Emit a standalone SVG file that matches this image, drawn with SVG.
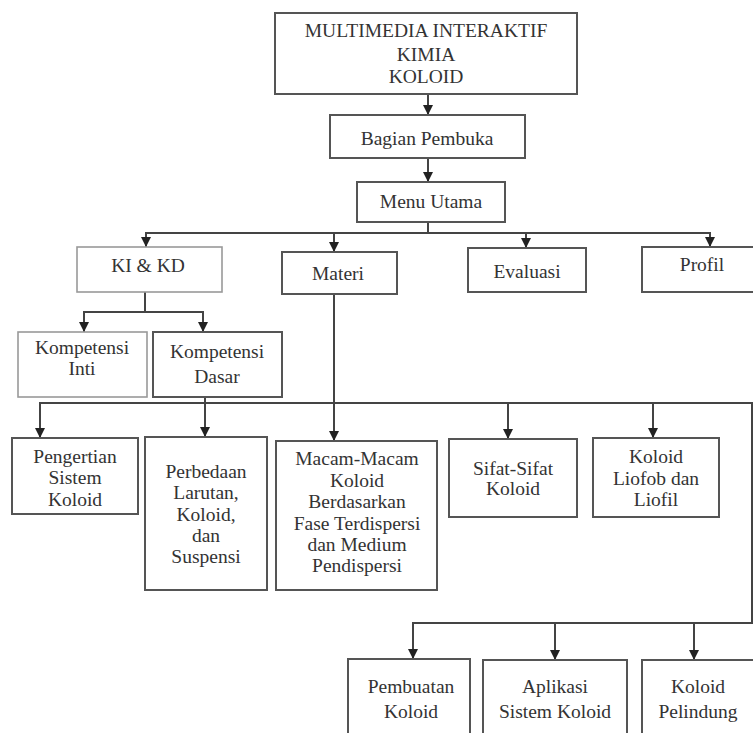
<svg xmlns="http://www.w3.org/2000/svg" width="753" height="733" viewBox="0 0 753 733">
<defs>
<marker id="ah" markerUnits="userSpaceOnUse" markerWidth="10" markerHeight="10" viewBox="0 0 10 10" refX="10" refY="5" orient="auto">
<path d="M0,0 L10,5 L0,10 Z" fill="#222"/>
</marker>
<style>
.b{fill:#fff;stroke:#555;stroke-width:2}
.l{fill:#fff;stroke:#999;stroke-width:1.6}
.t{font-family:'Liberation Serif','Times New Roman',serif;font-size:19.5px;fill:#333;text-anchor:middle}
.c{fill:none;stroke:#444;stroke-width:2}
.a{fill:none;stroke:#444;stroke-width:2;marker-end:url(#ah)}
</style>
</defs>
<rect width="753" height="733" fill="#fff"/>
<g id="connectors">
<line class="a" x1="428" y1="94" x2="428" y2="115"/>
<line class="a" x1="428" y1="158" x2="428" y2="182"/>
<line class="c" x1="428" y1="222" x2="428" y2="233"/>
<line class="c" x1="145" y1="233" x2="711" y2="233"/>
<line class="a" x1="146" y1="233" x2="146" y2="247"/>
<line class="a" x1="334" y1="233" x2="334" y2="252"/>
<line class="a" x1="526" y1="233" x2="526" y2="248"/>
<line class="a" x1="710" y1="233" x2="710" y2="247"/>
<line class="c" x1="145" y1="292" x2="145" y2="312"/>
<line class="c" x1="83" y1="312" x2="204" y2="312"/>
<line class="a" x1="84" y1="312" x2="84" y2="332"/>
<line class="a" x1="203" y1="312" x2="203" y2="332"/>
<line class="c" x1="205" y1="397" x2="205" y2="403"/>
<polyline class="c" points="39,403 752,403 752,623 412,623"/>
<line class="a" x1="40" y1="403" x2="40" y2="438"/>
<line class="a" x1="205" y1="403" x2="205" y2="437"/>
<line class="a" x1="334" y1="294" x2="334" y2="441"/>
<line class="a" x1="508" y1="403" x2="508" y2="439"/>
<line class="a" x1="653" y1="403" x2="653" y2="438"/>
<line class="a" x1="413" y1="623" x2="413" y2="659"/>
<line class="a" x1="555" y1="623" x2="555" y2="660"/>
<line class="a" x1="694" y1="623" x2="694" y2="660"/>
</g>
<g id="n-title">
<rect class="b" x="275" y="13" width="302" height="81"/>
<text class="t" x="426" y="37">MULTIMEDIA INTERAKTIF</text>
<text class="t" x="426" y="61">KIMIA</text>
<text class="t" x="426" y="83">KOLOID</text>
</g>
<g id="n-pembuka">
<rect class="b" x="330" y="115" width="195" height="43"/>
<text class="t" x="427" y="145">Bagian Pembuka</text>
</g>
<g id="n-menu">
<rect class="b" x="357" y="182" width="148" height="40"/>
<text class="t" x="431" y="208">Menu Utama</text>
</g>
<g id="n-kikd">
<rect class="l" x="77" y="247" width="145" height="45"/>
<text class="t" x="148" y="272">KI &amp; KD</text>
</g>
<g id="n-materi">
<rect class="b" x="282" y="252" width="115" height="42"/>
<text class="t" x="338" y="280">Materi</text>
</g>
<g id="n-evaluasi">
<rect class="b" x="468" y="248" width="118" height="44"/>
<text class="t" x="527" y="278">Evaluasi</text>
</g>
<g id="n-profil">
<rect class="b" x="642" y="247" width="115" height="45"/>
<text class="t" x="702" y="271">Profil</text>
</g>
<g id="n-ki">
<rect class="l" x="18" y="332" width="129" height="65"/>
<text class="t" x="82" y="354">Kompetensi</text>
<text class="t" x="82" y="375">Inti</text>
</g>
<g id="n-kd">
<rect class="b" x="153" y="332" width="129" height="65"/>
<text class="t" x="217" y="358">Kompetensi</text>
<text class="t" x="217" y="383">Dasar</text>
</g>
<g id="n-pengertian">
<rect class="b" x="12" y="438" width="126" height="76"/>
<text class="t" x="75" y="463">Pengertian</text>
<text class="t" x="75" y="484">Sistem</text>
<text class="t" x="75" y="506">Koloid</text>
</g>
<g id="n-perbedaan">
<rect class="b" x="145" y="437" width="122" height="153"/>
<text class="t" x="206" y="478">Perbedaan</text>
<text class="t" x="206" y="499">Larutan,</text>
<text class="t" x="206" y="521">Koloid,</text>
<text class="t" x="206" y="542">dan</text>
<text class="t" x="206" y="563">Suspensi</text>
</g>
<g id="n-macam">
<rect class="b" x="276" y="441" width="161" height="149"/>
<text class="t" x="357" y="465">Macam-Macam</text>
<text class="t" x="357" y="487">Koloid</text>
<text class="t" x="357" y="508">Berdasarkan</text>
<text class="t" x="357" y="530">Fase Terdispersi</text>
<text class="t" x="357" y="551">dan Medium</text>
<text class="t" x="357" y="572">Pendispersi</text>
</g>
<g id="n-sifat">
<rect class="b" x="449" y="439" width="128" height="78"/>
<text class="t" x="513" y="475">Sifat-Sifat</text>
<text class="t" x="513" y="495">Koloid</text>
</g>
<g id="n-liofob">
<rect class="b" x="593" y="438" width="126" height="79"/>
<text class="t" x="656" y="463">Koloid</text>
<text class="t" x="656" y="485">Liofob dan</text>
<text class="t" x="656" y="506">Liofil</text>
</g>
<g id="n-pembuatan">
<rect class="b" x="348" y="659" width="122" height="90"/>
<text class="t" x="411" y="693">Pembuatan</text>
<text class="t" x="411" y="718">Koloid</text>
</g>
<g id="n-aplikasi">
<rect class="b" x="483" y="660" width="144" height="90"/>
<text class="t" x="555" y="693">Aplikasi</text>
<text class="t" x="555" y="718">Sistem Koloid</text>
</g>
<g id="n-pelindung">
<rect class="b" x="642" y="660" width="120" height="90"/>
<text class="t" x="698" y="693">Koloid</text>
<text class="t" x="698" y="718">Pelindung</text>
</g>
</svg>
